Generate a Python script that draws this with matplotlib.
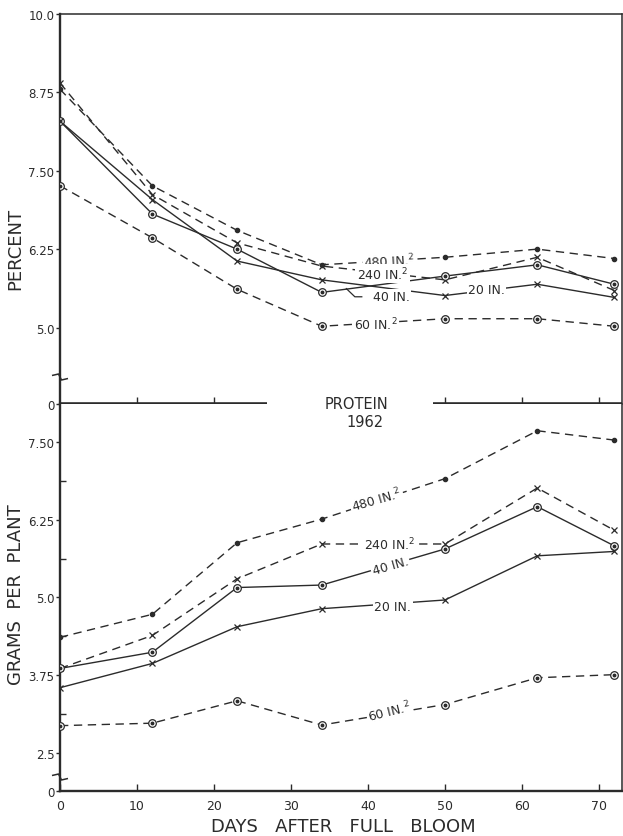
import numpy as np
import matplotlib
matplotlib.use("Agg")
import matplotlib.pyplot as plt

plt.rcParams["font.family"] = ["DejaVu Sans"]

INK = "#2b2b2b"

# Sampling days after full bloom
days = [0, 12, 23, 34, 50, 62, 72]

# Protein, percent of dry matter
pct_480 = [8.80, 7.26, 6.55, 6.00, 6.12, 6.25, 6.10]
pct_240 = [8.90, 7.12, 6.35, 5.98, 5.76, 6.12, 5.59]
pct_40 = [8.29, 6.81, 6.25, 5.56, 5.82, 6.00, 5.69]
pct_20 = [8.29, 7.04, 6.06, 5.76, 5.51, 5.69, 5.48]
pct_60 = [7.26, 6.43, 5.61, 5.02, 5.14, 5.14, 5.02]

# Protein, grams per plant
gpp_480 = [4.36, 4.73, 5.88, 6.26, 6.91, 7.68, 7.53]
gpp_240 = [3.86, 4.39, 5.30, 5.86, 5.86, 6.76, 6.08]
gpp_40 = [3.86, 4.12, 5.16, 5.20, 5.78, 6.46, 5.83]
gpp_20 = [3.55, 3.94, 4.53, 4.82, 4.96, 5.67, 5.74]
gpp_60 = [2.94, 2.98, 3.34, 2.95, 3.28, 3.71, 3.76]

pct_ticks = [0, 5.0, 6.25, 7.50, 8.75, 10.0]
pct_ticklabels = ["0", "5.0", "6.25", "7.50", "8.75", "10.0"]
gpp_ticks = [0, 2.5, 3.75, 5.0, 6.25, 7.50]
gpp_ticklabels = ["0", "2.5", "3.75", "5.0", "6.25", "7.50"]
gpp_minor = [3.125, 4.375, 5.625, 6.875]
day_ticks = [0, 10, 20, 30, 40, 50, 60, 70]

LBL = {"480": "480 IN.$^{2}$", "240": "240 IN.$^{2}$", "40": "40 IN.",
       "20": "20 IN.", "60": "60 IN.$^{2}$"}


def broken_scale(b, k):
    """Linear above b, compressed by factor k below b (axis break)."""
    def fwd(y):
        y = np.asarray(y, dtype=float)
        return np.where(y >= b, y, b - (b - y) * k)

    def inv(t):
        t = np.asarray(t, dtype=float)
        return np.where(t >= b, t, b - (b - t) / k)
    return fwd, inv


def draw_series(ax, y, style, marker):
    ls = "-" if style == "solid" else (0, (6, 4))
    ax.plot(days, y, color=INK, lw=1.0, ls=ls, zorder=2)
    if marker == "ring":
        ax.plot(days, y, ls="none", marker="o", ms=5.5, mfc="white",
                mec=INK, mew=0.9, zorder=3)
        ax.plot(days, y, ls="none", marker="o", ms=1.8, mfc=INK,
                mec=INK, zorder=4)
    elif marker == "x":
        ax.plot(days, y, ls="none", marker="x", ms=4.5, mec=INK,
                mew=0.9, zorder=3)
    else:
        ax.plot(days, y, ls="none", marker="o", ms=3.0, mfc=INK,
                mec=INK, zorder=3)


def break_mark(ax, yfrac):
    px, py = 1 / 562.0, 1 / 390.0
    xs = np.array([-8, -1.5, 1.5, 8]) * px
    ys = yfrac + np.array([1.5, 3, -3, -1.5]) * py
    ax.plot(xs, ys, color=INK, lw=1.1, transform=ax.transAxes,
            clip_on=False, zorder=6, solid_capstyle="butt")


def label(ax, x, y, key, rot=0):
    ax.text(x, y, LBL[key], fontsize=9, color=INK, ha="center",
            va="center", rotation=rot, rotation_mode="anchor", zorder=5,
            bbox=dict(boxstyle="square,pad=0.12", fc="white", ec="none"))


fig = plt.figure(figsize=(6.23, 8.37), dpi=100)
fig.patch.set_facecolor("white")

ax1 = fig.add_axes([60 / 623, 1 - 405 / 837, 562 / 623, 390 / 837])
ax2 = fig.add_axes([60 / 623, 1 - 792 / 837, 562 / 623, 387 / 837])

# ---- upper panel: percent ----
ax1.set_yscale("function", functions=broken_scale(4.2, 0.1))
ax1.set_ylim(0, 10.0)
ax1.set_xlim(0, 73)
draw_series(ax1, pct_480, "dashed", "dot")
draw_series(ax1, pct_240, "dashed", "x")
draw_series(ax1, pct_40, "solid", "ring")
draw_series(ax1, pct_20, "solid", "x")
draw_series(ax1, pct_60, "dashed", "ring")

label(ax1, 42.8, 6.07, "480", rot=3)
label(ax1, 41.9, 5.86, "240")
label(ax1, 43.0, 5.49, "40")
label(ax1, 55.4, 5.60, "20")
label(ax1, 41.0, 5.06, "60")
# leader from the 40-in. curve to its label
ax1.plot([37.2, 38.3, 39.2], [5.62, 5.49, 5.49], color=INK, lw=0.9, zorder=5)

ax1.set_yticks(pct_ticks)
ax1.set_yticklabels(pct_ticklabels)
ax1.set_xticks([10, 20, 50, 60, 70])
ax1.tick_params(axis="x", direction="in", length=5, width=1.0,
                labelbottom=False, colors=INK)
ax1.tick_params(axis="y", direction="out", length=3, width=1.0, pad=1,
                labelsize=8.5, colors=INK)
ax1.spines["left"].set_linewidth(1.7)
for s in ("top", "right"):
    ax1.spines[s].set_linewidth(1.1)
ax1.spines["bottom"].set_visible(False)
for sp in ax1.spines.values():
    sp.set_color(INK)
# heavy baseline, interrupted by the panel title
for x0, x1 in ((0, 0.368), (0.664, 1.0)):
    ax1.plot([x0, x1], [0, 0], color=INK, lw=2.6, transform=ax1.transAxes,
             clip_on=False, zorder=6, solid_capstyle="butt")
break_mark(ax1, (405 - 378) / 390.0)
ax1.set_ylabel("PERCENT", fontsize=13, color=INK)
ax1.yaxis.set_label_coords(-0.063, 0.40)

# ---- lower panel: grams per plant ----
ax2.set_yscale("function", functions=broken_scale(2.2, 0.141))
ax2.set_ylim(0, 8.11)
ax2.set_xlim(0, 73)
draw_series(ax2, gpp_480, "dashed", "dot")
draw_series(ax2, gpp_240, "dashed", "x")
draw_series(ax2, gpp_40, "solid", "ring")
draw_series(ax2, gpp_20, "solid", "x")
draw_series(ax2, gpp_60, "dashed", "ring")

label(ax2, 41.1, 6.58, "480", rot=16)
label(ax2, 42.8, 5.86, "240")
label(ax2, 42.9, 5.51, "40", rot=16)
label(ax2, 43.2, 4.86, "20")
label(ax2, 42.8, 3.17, "60", rot=14)

ax2.set_yticks(gpp_ticks)
ax2.set_yticklabels(gpp_ticklabels)
ax2.set_yticks(gpp_minor, minor=True)
ax2.set_xticks(day_ticks)
ax2.tick_params(axis="x", direction="in", length=5, width=1.0, pad=6,
                labelsize=9, colors=INK)
ax2.tick_params(axis="y", which="major", direction="out", length=3,
                width=1.0, pad=1, labelsize=8.5, colors=INK)
ax2.tick_params(axis="y", which="minor", direction="in", length=4,
                width=1.0, colors=INK)
ax2.spines["top"].set_visible(False)
ax2.spines["left"].set_linewidth(1.7)
ax2.spines["bottom"].set_linewidth(1.7)
ax2.spines["right"].set_linewidth(1.1)
for sp in ax2.spines.values():
    sp.set_color(INK)
break_mark(ax2, (792 - 778) / 387.0)
ax2.set_ylabel("GRAMS  PER  PLANT", fontsize=13, color=INK)
ax2.yaxis.set_label_coords(-0.063, 0.51)
ax2.set_xlabel("DAYS   AFTER   FULL   BLOOM", fontsize=13, color=INK)
ax2.xaxis.set_label_coords(0.505, -0.068)

# panel title in the gap of the dividing line
fig.text(357 / 623, 1 - 405 / 837, "PROTEIN", fontsize=10.5, color=INK,
         ha="center", va="center")
fig.text(365 / 623, 1 - 423 / 837, "1962", fontsize=10.5, color=INK,
         ha="center", va="center")

fig.savefig("out.png", dpi=100, facecolor="white")
